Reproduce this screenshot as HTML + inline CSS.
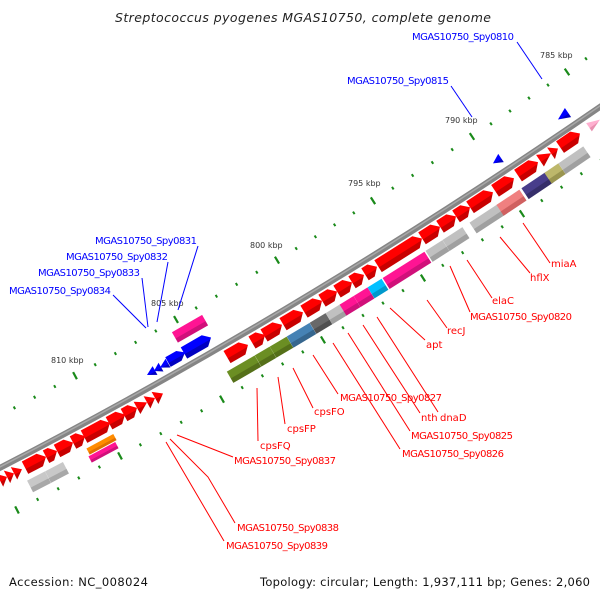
<!DOCTYPE html>
<html><head><meta charset="utf-8"><style>
html,body{margin:0;padding:0;background:#fff;width:600px;height:600px;overflow:hidden}
svg{display:block}
text{font-family:"DejaVu Sans","Liberation Sans",sans-serif}
</style></head><body>
<svg id="s" width="600" height="600" viewBox="0 0 600 600" xmlns="http://www.w3.org/2000/svg">
<defs id="defs"></defs>
<text x="303" y="22" font-size="12.5" font-style="italic" fill="#222" text-anchor="middle" textLength="376">Streptococcus pyogenes MGAS10750, complete genome</text>
<path d="M-10,473 Q300,314 610,100" fill="none" stroke="#858585" stroke-width="6"/>
<path d="M-10,472 Q300,313 610,99" fill="none" stroke="#a8a8a8" stroke-width="1.5"/>
<g id="feat"></g>
<g id="ticks"></g>
<g font-size="8" fill="#333">
<text x="540" y="58">785 kbp</text>
<text x="445" y="123">790 kbp</text>
<text x="348" y="186">795 kbp</text>
<text x="250" y="248">800 kbp</text>
<text x="151" y="306">805 kbp</text>
<text x="51" y="363">810 kbp</text>
</g>
<g stroke="#0000ff" stroke-width="1" fill="none">
<line x1="517" y1="42" x2="542" y2="79"/>
<line x1="451" y1="86" x2="472" y2="117"/>
<line x1="198" y1="246" x2="178" y2="310"/>
<line x1="168" y1="262" x2="157" y2="322"/>
<line x1="142" y1="278" x2="148" y2="327"/>
<line x1="113" y1="295" x2="146" y2="328"/>
</g>
<g font-size="10" fill="#0000ff">
<text x="412" y="40" textLength="102">MGAS10750_Spy0810</text>
<text x="347" y="84" textLength="102">MGAS10750_Spy0815</text>
<text x="95" y="244" textLength="102">MGAS10750_Spy0831</text>
<text x="66" y="260" textLength="102">MGAS10750_Spy0832</text>
<text x="38" y="276" textLength="102">MGAS10750_Spy0833</text>
<text x="9" y="294" textLength="102">MGAS10750_Spy0834</text>
</g>
<g stroke="#ff0000" stroke-width="1" fill="none">
<line x1="523" y1="223" x2="550" y2="263"/>
<line x1="500" y1="237" x2="530" y2="273"/>
<line x1="467" y1="260" x2="492" y2="298"/>
<line x1="450" y1="266" x2="470" y2="312"/>
<line x1="427" y1="300" x2="447" y2="328"/>
<line x1="390" y1="308" x2="425" y2="340"/>
<line x1="377" y1="317" x2="438" y2="412"/>
<line x1="363" y1="325" x2="420" y2="413"/>
<line x1="348" y1="333" x2="410" y2="431"/>
<line x1="333" y1="343" x2="400" y2="449"/>
<line x1="313" y1="355" x2="338" y2="394"/>
<line x1="293" y1="368" x2="313" y2="408"/>
<line x1="278" y1="377" x2="285" y2="424"/>
<line x1="257" y1="388" x2="258" y2="441"/>
<line x1="177" y1="435" x2="233" y2="457"/>
<polyline points="170,439 208,477 235,523"/>
<polyline points="166,442 200,500 224,541"/>
</g>
<g font-size="10" fill="#ff0000">
<text x="551" y="267">miaA</text>
<text x="530" y="281">hflX</text>
<text x="492" y="304">elaC</text>
<text x="470" y="320" textLength="102">MGAS10750_Spy0820</text>
<text x="447" y="334">recJ</text>
<text x="426" y="348">apt</text>
<text x="340" y="401" textLength="102">MGAS10750_Spy0827</text>
<text x="421" y="421">nth</text>
<text x="440" y="421">dnaD</text>
<text x="411" y="439" textLength="102">MGAS10750_Spy0825</text>
<text x="402" y="457" textLength="102">MGAS10750_Spy0826</text>
<text x="314" y="415">cpsFO</text>
<text x="287" y="432">cpsFP</text>
<text x="260" y="449">cpsFQ</text>
<text x="234" y="464" textLength="102">MGAS10750_Spy0837</text>
<text x="237" y="531" textLength="102">MGAS10750_Spy0838</text>
<text x="226" y="549" textLength="102">MGAS10750_Spy0839</text>
</g>
<text x="9" y="586" font-size="11.5" fill="#111" textLength="139">Accession: NC_008024</text>
<text x="260" y="586" font-size="11.5" fill="#111" textLength="330">Topology: circular; Length: 1,937,111 bp; Genes: 2,060</text>
</svg>
<script>
(function(){
var NS="http://www.w3.org/2000/svg";
function P(x,off){var t=x/600,u=1-t;var y=467*u*u+628*t*u+105*t*t;var dy=-934*u+628*(1-2*t)+210*t;var dx=600;var l=Math.sqrt(dx*dx+dy*dy);var tx=dx/l,ty=dy/l;return {x:x+off*(-ty),y:y+off*tx,a:Math.atan2(ty,tx)*180/Math.PI,c:tx};}
function X(obs,off){var x=obs;for(var i=0;i<5;i++){x+=obs-P(x,off).x;}return x;}
var defs=document.getElementById('defs'),fg=document.getElementById('feat'),tg=document.getElementById('ticks');
var gid=0,gmap={};
function grad(c,d){var k=c+d;if(gmap[k])return gmap[k];var id='g'+(gid++);var g=document.createElementNS(NS,'linearGradient');g.setAttribute('id',id);g.setAttribute('x1','0');g.setAttribute('y1','0');g.setAttribute('x2','0');g.setAttribute('y2','1');
[[0,c],[0.58,c],[0.62,d],[1,d]].forEach(function(s){var st=document.createElementNS(NS,'stop');st.setAttribute('offset',s[0]);st.setAttribute('stop-color',s[1]);g.appendChild(st);});defs.appendChild(g);gmap[k]='url(#'+id+')';return gmap[k];}
function feat(o1,o2,off,h,type,c,d){var x1=X(o1,off),x2=X(o2,off);var m=P((x1+x2)/2,off);var L=(x2-x1)/m.c;var pts;var a=L/2,b=h/2;
if(type=='r'){var hl=Math.min(7,L*0.55);pts=[[-a,-b],[a-hl,-b],[a,0],[a-hl,b],[-a,b]];}
else if(type=='l'){var hl=Math.min(7,L*0.55);pts=[[a,-b],[-a+hl,-b],[-a,0],[-a+hl,b],[a,b]];}
else if(type=='tr'){pts=[[-a,-b],[a,0],[-a,b]];}
else if(type=='tl'){pts=[[a,-b],[-a,0],[a,b]];}
else{pts=[[-a,-b],[a,-b],[a,b],[-a,b]];}
var p=document.createElementNS(NS,'polygon');p.setAttribute('points',pts.map(function(q){return q.join(',')}).join(' '));p.setAttribute('fill',grad(c,d));
p.setAttribute('transform','translate('+m.x.toFixed(2)+','+m.y.toFixed(2)+') rotate('+m.a.toFixed(2)+')');fg.appendChild(p);}
var R='#ff0000',RD='#c80000';
var row1=[[0,7,'tr'],[7,14,'tr'],[14,22,'tr'],[25,46],[46,57],[57,73],[73,85],[84,110],[109,125],[124,137],[137,147,'tr'],[147,155,'tr'],[155,163,'tr'],[227,248],[252,265],[264,282],[283,303],[304,322],[322,337],[337,352],[352,364],[365,377],[378,422],[422,440],[440,456],[456,470],[470,493],[495,514],[518,538],[540,551,'tr'],[551,558,'tr'],[560,580]];
row1.forEach(function(f){feat(f[0],f[1],12,14,f[2]||'r',R,RD);});
feat(589,600,12,10,'tr','#ffb0d0','#e890b0');
var row2=[[30,48,'#c8c8c8','#a8a8a8'],[48,66,'#c8c8c8','#a8a8a8'],[230,258,'#6b8e23','#557019'],[258,273,'#6b8e23','#557019'],[273,290,'#6b8e23','#557019'],[290,313,'#4682b4','#36668e'],[313,329,'#696969','#505050'],[329,344,'#c0c0c0','#a0a0a0'],[343,357,'#ff1493','#d0107a'],[357,371,'#ff1493','#d0107a'],[371,385,'#00bfff','#0099cc'],[386,428,'#ff1493','#d0107a'],[429,446,'#c0c0c0','#a0a0a0'],[446,466,'#c0c0c0','#a0a0a0'],[473,504,'#c0c0c0','#a0a0a0'],[500,523,'#f08080','#d06060'],[525,550,'#483d8b','#362e6a'],[548,562,'#bdb76b','#9a9550'],[562,587,'#c0c0c0','#a0a0a0']];
row2.forEach(function(f){feat(f[0],f[1],31,13,'b',f[2],f[3]);});
feat(88,115,27,7,'b','#ff8c00','#e07000');
feat(90,117,35,7,'b','#ff1493','#d0107a');
var B='#0000ff',BD='#0000c0';
feat(184,211,-13,13,'r',B,BD);feat(168,185,-13,11,'r',B,BD);
feat(160,168,-12,10,'tl',B,BD);feat(154,161,-12,10,'tl',B,BD);feat(147,155,-12,10,'tl',B,BD);
feat(175,205,-31,12,'b','#ff1493','#d0107a');
feat(493,501,-12,10,'tl',B,BD);feat(558,568,-12,11,'tl',B,BD);
function tick(x,off,maj){var m=P(x,off);var r=document.createElementNS(NS,'rect');var len=maj?8:3,w=maj?2.2:2;
r.setAttribute('x',-w/2);r.setAttribute('y',-len/2);r.setAttribute('width',w);r.setAttribute('height',len);r.setAttribute('fill','#1a8a1a');
r.setAttribute('transform','translate('+m.x.toFixed(2)+','+m.y.toFixed(2)+') rotate('+m.a.toFixed(2)+')');tg.appendChild(r);}
function ring(obs,off){var maj=obs.map(function(o){return X(o,off);});var all=maj.slice();var sp=maj[1]-maj[0];all.unshift(maj[0]-sp);var spl=maj[maj.length-1]-maj[maj.length-2];all.push(maj[maj.length-1]+spl);
for(var i=0;i<all.length-1;i++){for(var k=0;k<5;k++){var x=all[i]+(all[i+1]-all[i])*k/5;var p=P(x,off);if(p.x<-2||p.x>602||p.y<-2)continue;var ismaj=(k==0&&i>0);tick(x,off,ismaj);}}}
ring([75,176,277,373,472,567],-46);
ring([17,120,222,323,423,522],46);
})();
</script>
</body></html>
